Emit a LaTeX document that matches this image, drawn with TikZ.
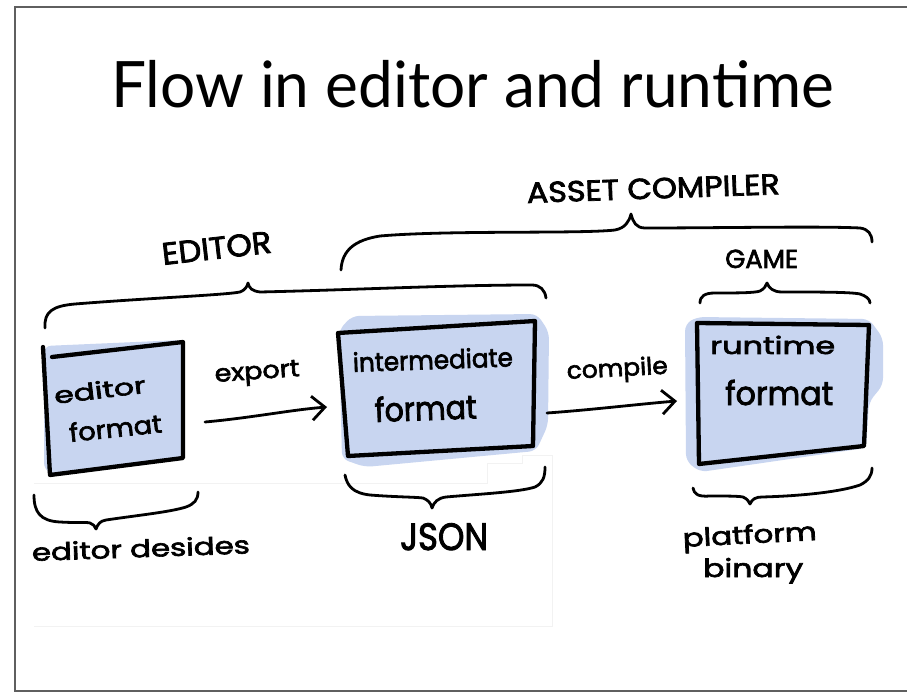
\documentclass[tikz,border=0pt]{standalone}
\usepackage{fontspec}
\setmainfont{Poppins}
\newfontfamily\handfont{Poppins}[RawFeature={embolden=2.5}]
\newfontfamily\titlefont{Lato}
\usetikzlibrary{arrows.meta}
\definecolor{boxblue}{RGB}{200,213,240}
\definecolor{framegray}{RGB}{95,95,95}
% hand-lettered label: target width (pt), font size (pt), text
\newcommand{\hand}[3]{\resizebox{#1pt}{\height}{\handfont\fontsize{#2}{#2}\selectfont #3}}
\tikzset{
  outline/.style={line width=4.3pt, line join=round, line cap=round},
  brace/.style={line width=2.8pt, line cap=round, line join=round},
  flow/.style={line width=2.8pt, line cap=round,
    -{Straight Barb[length=13pt,width=24pt]}},
  handtxt/.style={inner sep=0pt, anchor=base west},
  blob/.style={fill=boxblue, rounded corners=7pt},
}
\begin{document}
\begin{tikzpicture}[x=1pt,y=-1pt]
\useasboundingbox (0,0) rectangle (907,692);
\fill[white] (0,0) rectangle (907,692);

% slide frame
\draw[framegray, line width=1.5pt] (907,7) -- (15,7) -- (15,691) -- (907,691);

% faint edge of the pasted sketch
\draw[black!5, line width=0.8pt] (34,483) -- (487,483) -- (487,463) -- (522,463) -- (522,455) -- (552,455) -- (552,626) -- (34,626);

% title
\node[anchor=base west, inner sep=0pt] (title) at (111,108)
  {\resizebox{723pt}{\height}{\titlefont\fontsize{64}{64}\selectfont Flow in editor and runtime}};

% blue washes behind the boxes
\fill[blob] (44,346) -- (182,340) -- (184,458) -- (55,475) -- (44,470) -- cycle;
\fill[blob] (339,330) -- (352,316) -- (537,314) -- (549,332) -- (548,425) -- (536,451) -- (365,467) -- (342,459) -- cycle;
\fill[blob] (685,324) -- (697,317) -- (869,319) -- (883,338) -- (883,385) -- (869,402) -- (866,448) -- (700,472) -- (686,461) -- cycle;

% boxes
\draw[outline] (52,357) -- (183,342) -- (183,458) -- (50,475) -- (43,347);
\draw[outline] (338,333) -- (535,321) -- (533,446) -- (348,456) -- cycle;
\draw[outline] (697,323) -- (869,325) -- (864,446) -- (699,464) -- cycle;

% box texts
\node[handtxt, rotate=7] (edA) at (55,404) {\hand{92}{23}{editor}};
\node[handtxt, rotate=6] (edB) at (70,442) {\hand{93}{25}{format}};
\node[handtxt, rotate=2] (imA) at (353,372) {\hand{160}{26}{intermediate}};
\node[handtxt, rotate=2] (imB) at (375,422) {\hand{102}{33}{format}};
\node[handtxt] (rtA) at (710,354) {\hand{125}{24}{runtime}};
\node[handtxt] (rtB) at (725,405) {\hand{108}{33}{format}};

% connectors
\coordinate (exportFrom) at (205,422);
\coordinate (exportTo) at (327,407);
\coordinate (compileFrom) at (547,413);
\coordinate (compileTo) at (677,401);
\draw[flow] (exportFrom) .. controls (250,418) and (290,410) .. (exportTo);
\draw[flow] (compileFrom) .. controls (590,410) and (640,404) .. (compileTo);
\node[handtxt, rotate=4] (exportlbl) at (215,382) {\hand{85}{24}{export}};
\node[handtxt, rotate=3] (compilelbl) at (567,379) {\hand{101}{24}{compile}};

% upper braces
\draw[brace] (45,328) .. controls (44,312) and (52,306) .. (75,304)
  .. controls (150,298) and (225,295) .. (240,292)
  .. controls (245,290) and (247,287) .. (248,283)
  .. controls (249,288) and (252,291) .. (260,292)
  .. controls (350,290) and (450,285) .. (532,285)
  .. controls (540,285) and (545,290) .. (546,298);
\draw[brace] (341,270) .. controls (342,250) and (355,240) .. (380,236)
  .. controls (450,230) and (580,234) .. (615,230)
  .. controls (625,228) and (629,222) .. (631,214)
  .. controls (633,222) and (636,228) .. (645,228)
  .. controls (720,228) and (820,226) .. (860,228)
  .. controls (868,229) and (872,234) .. (872,242);
\draw[brace] (700,303) .. controls (700,296) and (705,293) .. (715,293)
  .. controls (735,293) and (755,293) .. (760,291)
  .. controls (764,289) and (766,286) .. (767,283)
  .. controls (769,288) and (773,292) .. (782,292)
  .. controls (820,292) and (850,292) .. (860,294)
  .. controls (866,296) and (870,299) .. (870,303);
\node[handtxt, rotate=2] (assetlbl) at (527,203) {\hand{253}{29}{ASSET COMPILER}};
\node[handtxt, rotate=6.5] (editorlbl) at (163,265) {\hand{110}{31}{EDITOR}};
\node[handtxt] (gamelbl) at (725,268) {\hand{73}{26}{GAME}};

% lower braces
\draw[brace] (34,495) .. controls (34,512) and (40,521) .. (60,522)
  .. controls (75,523) and (88,522) .. (90,523)
  .. controls (93,524) and (95,526) .. (96,529)
  .. controls (98,524) and (100,521) .. (106,520)
  .. controls (140,515) and (170,512) .. (186,507)
  .. controls (194,504) and (198,500) .. (198,492);
\draw[brace] (345,475) .. controls (347,485) and (352,493) .. (370,495)
  .. controls (395,497) and (415,497) .. (423,498)
  .. controls (428,500) and (431,503) .. (432,508)
  .. controls (434,502) and (438,498) .. (446,497)
  .. controls (480,494) and (520,492) .. (535,487)
  .. controls (543,483) and (545,477) .. (545,467);
\draw[brace] (693,488) .. controls (694,494) and (698,497) .. (710,496)
  .. controls (725,496) and (738,496) .. (743,497)
  .. controls (747,499) and (749,501) .. (750,504)
  .. controls (752,499) and (756,497) .. (762,497)
  .. controls (800,496) and (840,492) .. (860,485)
  .. controls (868,481) and (872,476) .. (872,468);
\node[handtxt, rotate=2] (desideslbl) at (32,561) {\hand{218}{24}{editor desides}};
\node[handtxt] (jsonlbl) at (400,550) {\hand{88}{38}{JSON}};
\node[handtxt, rotate=3] (platformlbl) at (683,547) {\hand{134}{25}{platform}};
\node[handtxt] (binarylbl) at (703,577) {\hand{100}{25}{binary}};
\end{tikzpicture}
\end{document}
